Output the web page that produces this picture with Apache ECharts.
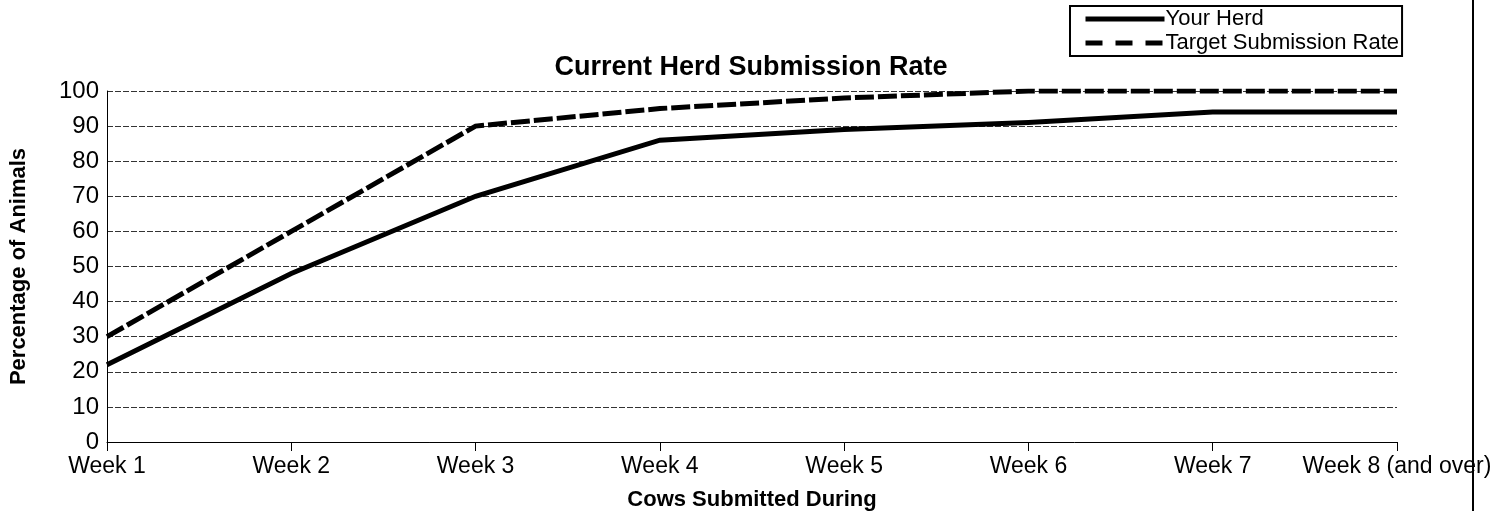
<!DOCTYPE html>
<html>
<head>
<meta charset="utf-8">
<script src="https://cdn.jsdelivr.net/npm/echarts@6/dist/echarts.min.js"></script>
<style>html,body{margin:0;padding:0;background:#fff;}#c{width:1499px;height:511px;}</style>
</head>
<body>
<div id="c"></div>
<script>
const categories = ['Week 1','Week 2','Week 3','Week 4','Week 5','Week 6','Week 7','Week 8 (and over)'];
const yourHerd = [22, 48, 70, 86, 89, 91, 94, 94];
const targetRate = [30, 60, 90, 95, 98, 100, 100, 100];
const yTicks = [0, 10, 20, 30, 40, 50, 60, 70, 80, 90, 100];

const chart = echarts.init(document.getElementById('c'), null, {renderer: 'canvas'});
const font = 'Arial, "Liberation Sans", sans-serif';
chart.setOption({
  animation: false,
  backgroundColor: '#fff',
  color: ['#000', '#000'],
  title: {
    text: 'Current Herd Submission Rate',
    left: 746, top: 49, textAlign: 'center',
    textStyle: {fontFamily: font, fontWeight: 'bold', fontSize: 27, color: '#000'}
  },
  legend: {
    orient: 'vertical', left: 1070, top: 6,
    borderColor: '#000', borderWidth: 2, borderRadius: 0,
    padding: [2, 3, 2, 13], itemGap: 2, itemWidth: 79, itemHeight: 22,
    itemStyle: {opacity: 0},
    textStyle: {fontFamily: font, fontSize: 22, color: '#000', padding: [0, 0, 0, -4]},
    data: [
      {name: 'Your Herd', lineStyle: {width: 5, color: '#000', type: 'solid'}},
      {name: 'Target Submission Rate', lineStyle: {width: 5, color: '#000', type: [17, 13]}}
    ]
  },
  grid: {left: 107, right: 102, top: 91, bottom: 69, containLabel: false, outerBoundsMode: 'none'},
  xAxis: {
    type: 'category', data: categories, boundaryGap: false,
    name: 'Cows Submitted During', nameLocation: 'middle', nameGap: 47,
    nameTextStyle: {fontFamily: font, fontWeight: 'bold', fontSize: 22, color: '#000'},
    axisLine: {lineStyle: {color: '#000', width: 1}},
    axisTick: {show: true, length: 9, lineStyle: {color: '#000'}},
    axisLabel: {fontFamily: font, fontSize: 23, color: '#000', margin: 13, interval: 0},
    splitLine: {show: false}
  },
  yAxis: {
    type: 'value', min: 0, max: 100, interval: 10,
    name: 'Percentage of Animals', nameLocation: 'middle', nameGap: 77,
    nameTextStyle: {fontFamily: font, fontWeight: 'bold', fontSize: 22, color: '#000'},
    axisLine: {show: true, lineStyle: {color: '#000', width: 1}},
    axisTick: {show: false},
    axisLabel: {fontFamily: font, fontSize: 24, color: '#000', margin: 8,
      formatter: v => yTicks.includes(v) ? String(v) : ''},
    splitLine: {show: true, lineStyle: {color: '#333', width: 1, type: [6, 2]}}
  },
  series: [
    {name: 'Your Herd', type: 'line', data: yourHerd, symbol: 'none',
      itemStyle: {color: '#000'},
      lineStyle: {color: '#000', width: 5, type: 'solid', cap: 'butt', join: 'miter'}, z: 3},
    {name: 'Target Submission Rate', type: 'line', data: targetRate, symbol: 'none',
      itemStyle: {color: '#000'},
      lineStyle: {color: '#000', width: 5, type: [19, 4], cap: 'butt', join: 'miter'}, z: 4}
  ],
  graphic: [
    {type: 'line', shape: {x1: 1473, y1: 0, x2: 1473, y2: 511}, style: {stroke: '#000', lineWidth: 2}}
  ]
});
</script>
</body>
</html>
